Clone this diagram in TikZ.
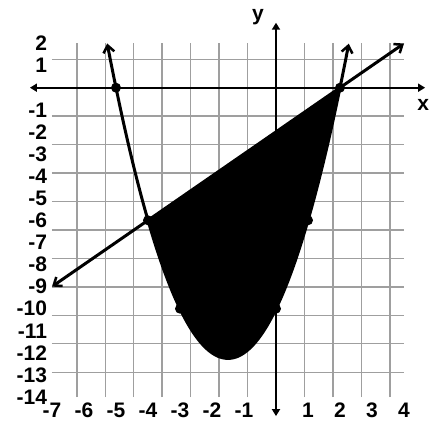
\documentclass[tikz,border=0pt]{standalone}
\usepackage{fontspec}
\setmainfont{Liberation Sans}
\usetikzlibrary{arrows.meta}
\begin{document}
\begin{tikzpicture}[x=32pt,y=22.1pt,
  gridline/.style={draw=gray!75,line width=1.4pt},
  axisline/.style={line width=2pt,{Triangle[length=7pt,width=8pt]}-{Triangle[length=7pt,width=8pt]}},
  curveline/.style={line width=3pt,{Straight Barb[length=7pt,width=11pt,line width=2.5pt]}-{Straight Barb[length=7pt,width=11pt,line width=2.5pt]}},
  ptdot/.style={circle,fill=black,inner sep=0pt,minimum size=10pt},
  lbl/.style={font=\fontsize{21}{23}\selectfont\bfseries,inner sep=0pt}]
\useasboundingbox (-8.625,-15.127) rectangle (4.8125,3.968);
\fill[white] (-8.625,-15.127) rectangle (4.8125,3.968);
% grid
\draw[gridline] (-7,-14) grid (4,2);
% shaded region
\fill[black] (-4,-6) -- (2,0) -- plot[domain=2:-4,samples=80,smooth] (\x,{(\x+5)*(\x-2)}) -- cycle;
% axes
\coordinate (xl) at (-7.69,0);
\coordinate (xr) at (4.66,0);
\coordinate (yt) at (0,2.94);
\coordinate (yb) at (0,-14.86);
\draw[axisline] (xl) -- (xr);
\draw[axisline] (yb) -- (yt);
\node[lbl] (xlab) at (4.6,-0.8) {x};
\node[lbl] (ylab) at (-0.56,3.2) {y};
% parabola
\draw[curveline] plot[domain=-5.275:2.275,samples=100,smooth] (\x,{(\x+5)*(\x-2)});
% line
\coordinate (la) at (-7,-9);
\coordinate (lb) at (4,2);
\draw[curveline] (la) -- (lb);
% points
\node[ptdot] (p1) at (-5,0) {};
\node[ptdot] (p2) at (-4,-6) {};
\node[ptdot] (p3) at (-3,-10) {};
\node[ptdot] (p4) at (0,-10) {};
\node[ptdot] (p5) at (1,-6) {};
\node[ptdot] (p6) at (2,0) {};
% y labels
\foreach \v in {2,1,-1,-2,-3,-4,-5,-6,-7,-8,-9,-10,-11,-12,-13,-14}
  \node[lbl,anchor=east] (yl\v) at (-7.15,\v) {\v};
% x labels
\foreach \v in {-7,-6,-5,-4,-3,-2,-1,1,2,3,4}
  \node[lbl] (xl\v) at (\v,-14.58) {\v};
\end{tikzpicture}
\end{document}
